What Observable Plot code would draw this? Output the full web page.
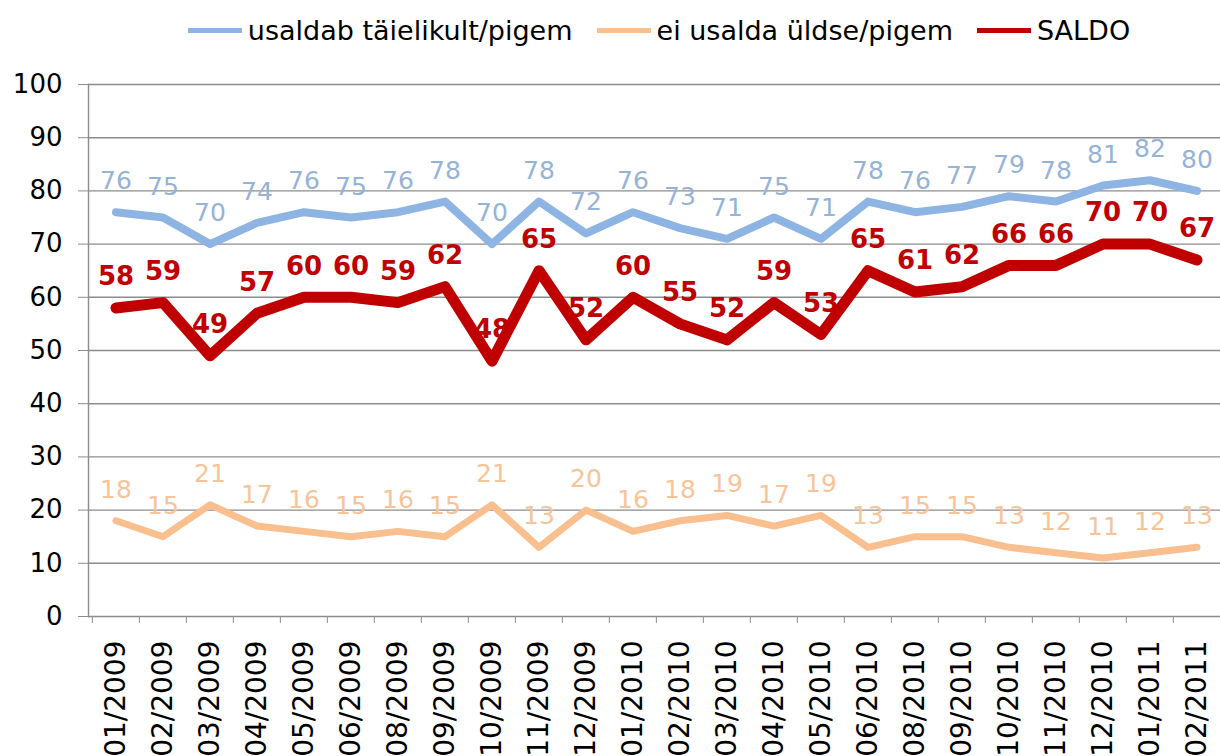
<!DOCTYPE html>
<html>
<head>
<meta charset="utf-8">
<script src="https://cdn.jsdelivr.net/npm/d3@7"></script>
<script src="https://cdn.jsdelivr.net/npm/@observablehq/plot@0.6"></script>
<style>
  html, body { margin: 0; padding: 0; background: #fff; overflow: hidden; }
  body { width: 1220px; height: 756px; font-family: "DejaVu Sans", Verdana, sans-serif; }
  #legend { height: 60px; display: flex; align-items: center; justify-content: center; padding-left: 98px; box-sizing: border-box; gap: 24px; font-size: 27px; color: #000; }
  .item { display: flex; align-items: center; }
  .sw { width: 54px; height: 5px; margin-right: 6px; }
</style>
</head>
<body>
<div id="legend"></div>
<div id="chart"></div>
<script>
const months = ["01/2009","02/2009","03/2009","04/2009","05/2009","06/2009","08/2009","09/2009","10/2009","11/2009","12/2009",
  "01/2010","02/2010","03/2010","04/2010","05/2010","06/2010","08/2010","09/2010","10/2010","11/2010","12/2010",
  "01/2011","02/2011"];
const trustValues    = [76,75,70,74,76,75,76,78,70,78,72,76,73,71,75,71,78,76,77,79,78,81,82,80];
const distrustValues = [18,15,21,17,16,15,16,15,21,13,20,16,18,19,17,19,13,15,15,13,12,11,12,13];
const saldoValues    = [58,59,49,57,60,60,59,62,48,65,52,60,55,52,59,53,65,61,62,66,66,70,70,67];
const seriesNames = ["usaldab täielikult/pigem", "ei usalda üldse/pigem", "SALDO"];
const lineColors  = ["#8db4e2", "#f9bf8e", "#c00000"];
const labelColors = ["#95b3d7", "#f7c49a", "#c00000"];
const yTicks = [0,10,20,30,40,50,60,70,80,90,100];

const series = [trustValues, distrustValues, saldoValues];
const rows = series.map((vals, s) => months.map((m, i) => ({month: m, series: seriesNames[s], value: vals[i]})));

// legend
const legend = document.getElementById("legend");
seriesNames.forEach((name, i) => {
  const it = document.createElement("div");
  it.className = "item";
  const sw = document.createElement("span");
  sw.className = "sw";
  sw.style.background = lineColors[i];
  const t = document.createElement("span");
  t.textContent = name;
  it.appendChild(sw); it.appendChild(t);
  legend.appendChild(it);
});

const xRange = [88, 1224];
const bw = (xRange[1] - xRange[0]) / months.length;
const gridColor = "#8c8c8c";
const widths = [8, 7, 11];

const chart = Plot.plot({
  width: 1220,
  height: 696,
  marginTop: 24,
  marginBottom: 140,
  marginLeft: 88,
  marginRight: 0,
  style: {fontFamily: "DejaVu Sans, Verdana, sans-serif", color: "#000", background: "#fff", overflow: "visible"},
  x: {type: "band", domain: months, range: xRange, padding: 0},
  y: {domain: [0, 100]},
  marks: [
    Plot.gridY(yTicks, {stroke: gridColor, strokeOpacity: 1, strokeWidth: 1.4}),
    Plot.frame({anchor: "left", stroke: gridColor, strokeWidth: 1.4}),
    Plot.axisY(yTicks, {tickSize: 10, tickPadding: 16, fontSize: 26, stroke: gridColor, fill: "#000", label: null}),
    Plot.axisX({tickSize: 7, tickFormat: () => "", dx: -bw / 2, stroke: gridColor, label: null}),
    Plot.axisX({tickSize: 0, tickPadding: 24, tickRotate: -90, fontSize: 28, fill: "#000", label: null}),
    ...rows.map((r, s) => Plot.line(r, {x: "month", y: "value", stroke: lineColors[s], strokeWidth: widths[s], strokeLinejoin: "round", strokeLinecap: "round"})),
    ...rows.map((r, s) => Plot.text(r, {x: "month", y: "value", text: d => String(d.value), dy: -31, fill: labelColors[s], fontSize: s === 2 ? 26 : 25, fontWeight: s === 2 ? "bold" : "normal"}))
  ]
});
document.getElementById("chart").appendChild(chart);
</script>
</body>
</html>
